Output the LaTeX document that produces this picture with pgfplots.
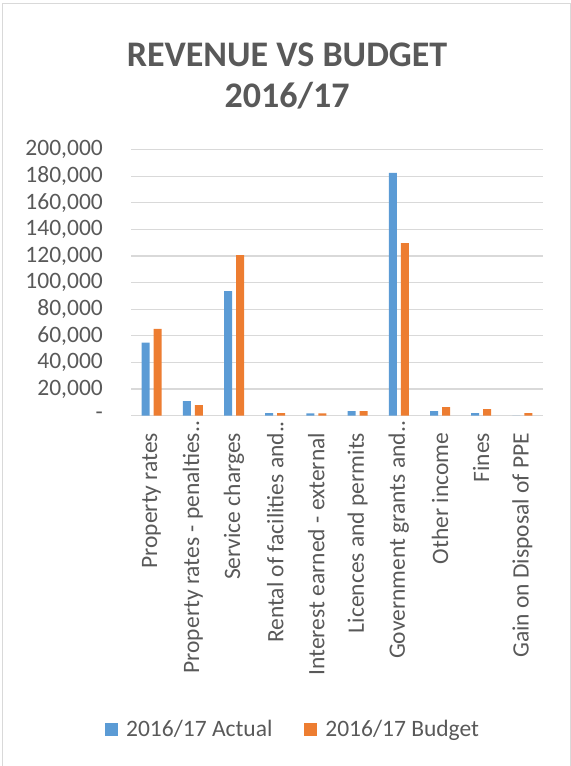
\documentclass[border=0pt]{standalone}
\usepackage{pgfplots}
\pgfplotsset{compat=1.18}
\usepackage{fontspec}
\setmainfont{Carlito}
\definecolor{txt}{HTML}{595959}
\definecolor{grd}{HTML}{D9D9D9}
\definecolor{blu}{HTML}{5B9BD5}
\definecolor{org}{HTML}{ED7D31}
\begin{document}
\begin{tikzpicture}[x=1bp,y=1bp]
\useasboundingbox (0,0) rectangle (571,766);
\draw[grd, line width=1bp] (2.5,0) -- (2.5,762.5) -- (570,762.5) -- (570,0);
\node[anchor=base, text=txt, font=\fontsize{36bp}{40bp}\selectfont\bfseries, inner sep=0pt] at (287,699.3) {REVENUE VS BUDGET};
\node[anchor=base, text=txt, font=\fontsize{36bp}{40bp}\selectfont\bfseries, inner sep=0pt] at (287,658) {2016/17};
\begin{axis}[
  at={(131bp,350.3bp)}, anchor=south west,
  scale only axis, width=412bp, height=266bp,
  xmin=-0.5, xmax=9.5, ymin=0, ymax=200000,
  ybar=4bp, bar width=8bp,
  axis line style={draw=none},
  ymajorgrids, major grid style={grd, line width=1.2bp},
  major tick length=0pt,
  xtick={0,...,9},
  xticklabels={{Property rates},{Property rates - penalties\rlap{..}},{Service charges},{Rental of facilities and\rlap{..}},{Interest earned - external},{Licences and permits},{Government grants and\rlap{..}},{Other income},{Fines},{Gain on Disposal of PPE}},
  ytick={0,20000,40000,60000,80000,100000,120000,140000,160000,180000,200000},
  yticklabels={{-\hspace{10bp}},{20,000},{40,000},{60,000},{80,000},{100,000},{120,000},{140,000},{160,000},{180,000},{200,000}},
  tick label style={text=txt, font=\fontsize{23.5bp}{28bp}\selectfont, inner sep=0pt},
  xticklabel style={rotate=90, anchor=east},
  yticklabel style={anchor=east},
  xticklabel shift=17bp,
  yticklabel shift=28bp,
  scaled y ticks=false,
  legend columns=2,
  legend image code/.code={\path[#1] (0bp,-6.5bp) rectangle (13bp,6.5bp);},
  legend style={at={(0.391,-1.18)}, anchor=center, draw=none, fill=none,
    font=\fontsize{23.5bp}{28bp}\selectfont, text=txt,
    nodes={inner sep=0pt},
    /tikz/every odd column/.style={column sep=8bp},
    /tikz/every even column/.style={column sep=32bp}},
]
\addplot[fill=blu, draw=none] coordinates {(0,54900) (1,11000) (2,93700) (3,2000) (4,1800) (5,3500) (6,182500) (7,3500) (8,2000) (9,0)};
\addplot[fill=org, draw=none] coordinates {(0,65200) (1,8000) (2,120800) (3,2000) (4,1800) (5,3500) (6,129800) (7,6500) (8,5000) (9,2000)};
\legend{2016/17 Actual, 2016/17 Budget}
\end{axis}
\end{tikzpicture}
\end{document}
